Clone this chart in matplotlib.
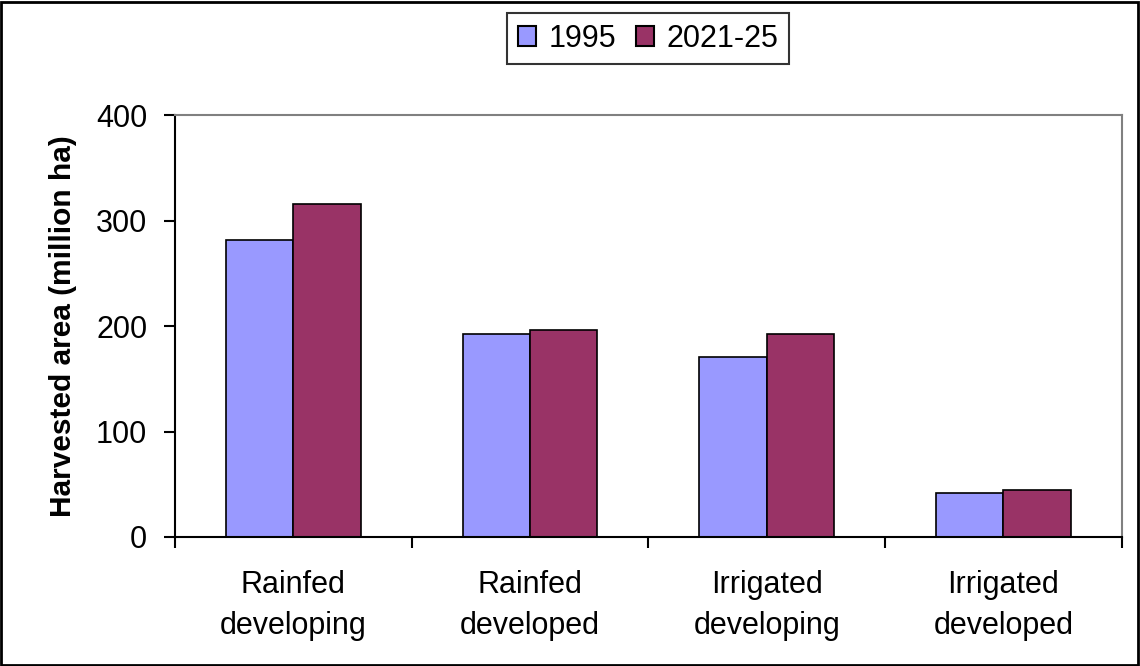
import numpy as np
import matplotlib
matplotlib.use("Agg")
import matplotlib.pyplot as plt
from matplotlib.patches import Rectangle

categories = ["Rainfed\ndeveloping", "Rainfed\ndeveloped", "Irrigated\ndeveloping", "Irrigated\ndeveloped"]
series_names = ["1995", "2021-25"]
area_1995 = [282, 192, 171, 42]
area_2021 = [316, 196, 192, 45]
y_ticks = [0, 100, 200, 300, 400]

C1995 = "#9999ff"
C2021 = "#993366"

plt.rcParams.update({
    "font.family": ["Liberation Sans", "DejaVu Sans"],
    "font.size": 22,
})

fig = plt.figure(figsize=(11.4, 6.66), dpi=100)
ax = fig.add_axes([0.1535, 0.1937, 0.8305, 0.6336])

x = np.arange(len(categories))
w = 0.285
ax.bar(x - w / 2, area_1995, w, color=C1995, edgecolor="black", linewidth=1.2, label=series_names[0])
ax.bar(x + w / 2, area_2021, w, color=C2021, edgecolor="black", linewidth=1.2, label=series_names[1])

ax.set_xlim(-0.5, len(categories) - 0.5)
ax.set_ylim(0, 400)
ax.set_yticks(y_ticks)
ax.set_xticks(np.arange(-0.5, len(categories)), [""] * (len(categories) + 1))
ax.set_xticks(x, categories, minor=True)
ax.tick_params(axis="x", which="minor", length=0, pad=24)
ax.tick_params(axis="x", which="major", direction="out", length=8, width=1.5)
ax.tick_params(axis="y", direction="out", length=8, width=1.5, pad=12)
for lab in ax.get_xticklabels(minor=True):
    lab.set_linespacing(1.45)

for s in ["left", "bottom"]:
    ax.spines[s].set_color("black")
    ax.spines[s].set_linewidth(1.5)
for s in ["top", "right"]:
    ax.spines[s].set_color("#808080")
    ax.spines[s].set_linewidth(1.5)

ax.set_ylabel("Harvested area (million ha)", fontsize=21.5, fontweight="bold")
ax.yaxis.set_label_coords(-0.1035, 0.5)

leg = fig.legend(loc="center", bbox_to_anchor=(0.5684, 0.942), ncol=2, frameon=True,
                 fancybox=False, edgecolor="black", fontsize=22, handlelength=0.6,
                 handleheight=0.6, handletextpad=0.4, columnspacing=0.65, borderpad=0.35,
                 borderaxespad=0)
leg.get_frame().set_linewidth(1.5)
for h in leg.legend_handles:
    h.set_linewidth(1.5)

fig.patches.append(Rectangle((0.001, 0.0015), 0.997, 0.996, transform=fig.transFigure,
                             fill=False, edgecolor="black", linewidth=2))

fig.savefig("out.png", dpi=100, facecolor="white")
